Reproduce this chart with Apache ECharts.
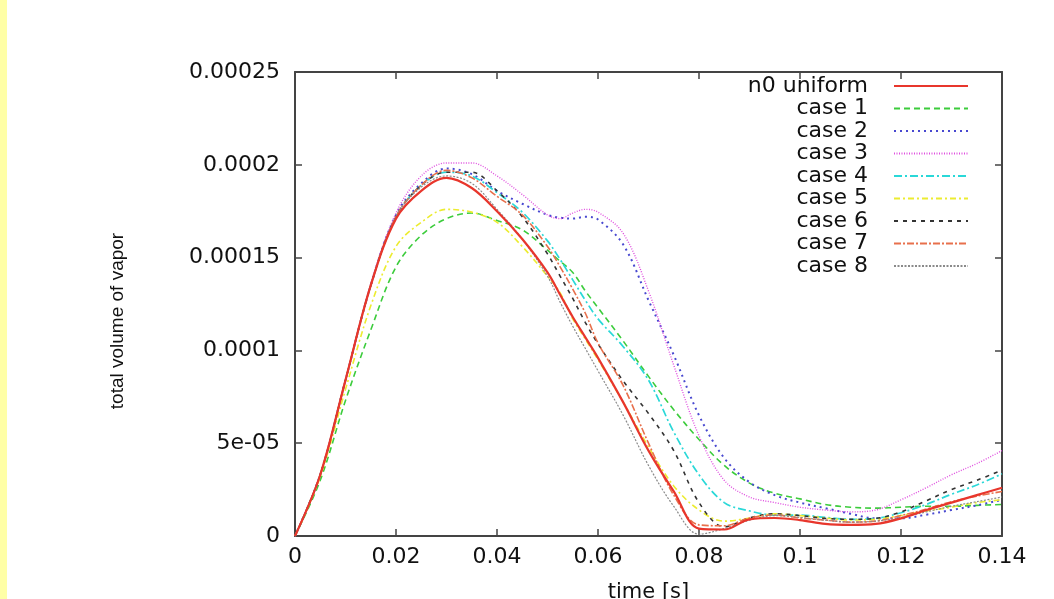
<!DOCTYPE html>
<html>
<head>
<meta charset="utf-8">
<script src="https://cdn.jsdelivr.net/npm/echarts@6/dist/echarts.min.js"></script>
<style>
html,body{margin:0;padding:0;background:#ffffff;}
#chart{width:1054px;height:599px;}
</style>
</head>
<body>
<div id="chart"></div>
<script>
// time samples [s]
const times = [0, 0.005, 0.01, 0.015, 0.02, 0.025, 0.03, 0.035, 0.04, 0.045, 0.05, 0.0525, 0.055, 0.0575, 0.06, 0.065, 0.07, 0.075, 0.08, 0.085, 0.09, 0.095, 0.1, 0.105, 0.11, 0.115, 0.12, 0.125, 0.13, 0.135, 0.14];

// total volume of vapor, in units of 1e-5
const n0Uniform = [0, 3.3, 8.4, 13.5, 17.1, 18.6, 19.3, 18.75, 17.5, 16.0, 14.2, 13.0, 11.8, 10.7, 9.6, 7.2, 4.6, 2.4, 0.4, 0.35, 0.9, 0.97, 0.86, 0.65, 0.6, 0.65, 0.95, 1.4, 1.8, 2.2, 2.6];
const case1 = [0, 3.0, 7.3, 11.1, 14.5, 16.2, 17.1, 17.4, 17.0, 16.5, 15.4, 14.8, 14.2, 13.2, 12.3, 10.5, 8.6, 6.8, 5.2, 3.8, 2.85, 2.3, 2.0, 1.7, 1.55, 1.5, 1.55, 1.6, 1.6, 1.65, 1.7];
const case2 = [0, 3.3, 8.4, 13.5, 17.3, 19.0, 19.8, 19.5, 18.6, 17.9, 17.3, 17.15, 17.1, 17.2, 17.05, 15.7, 12.7, 9.75, 6.5, 4.2, 2.9, 2.2, 1.8, 1.5, 1.2, 0.95, 0.95, 1.15, 1.4, 1.65, 1.95];
const case3 = [0, 3.3, 8.4, 13.6, 17.4, 19.4, 20.1, 20.1, 19.4, 18.4, 17.3, 17.1, 17.4, 17.6, 17.45, 16.3, 13.2, 9.2, 5.4, 3.0, 2.1, 1.8, 1.55, 1.4, 1.3, 1.4, 1.95, 2.6, 3.3, 3.9, 4.6];
const case4 = [0, 3.3, 8.4, 13.5, 17.2, 18.9, 19.6, 19.4, 18.5, 17.45, 15.9, 14.9, 13.8, 12.7, 11.7, 10.2, 8.4, 5.6, 3.3, 1.8, 1.35, 1.13, 1.13, 1.0, 0.9, 0.95, 1.25, 1.7, 2.25, 2.75, 3.35];
const case5 = [0, 3.2, 7.9, 12.4, 15.6, 16.9, 17.6, 17.45, 16.9, 15.6, 14.0, 13.1, 11.7, 10.6, 9.5, 7.2, 4.8, 2.7, 1.4, 0.8, 0.97, 1.2, 1.1, 0.97, 0.86, 0.9, 1.1, 1.35, 1.55, 1.8, 1.95];
const case6 = [0, 3.3, 8.4, 13.5, 17.2, 18.9, 19.6, 19.6, 18.6, 17.2, 15.2, 14.0, 12.8, 11.5, 10.35, 8.35, 6.6, 4.6, 1.8, 0.5, 0.97, 1.2, 1.1, 0.95, 0.9, 0.95, 1.3, 1.9, 2.5, 3.0, 3.55];
const case7 = [0, 3.3, 8.4, 13.5, 17.2, 18.9, 19.7, 19.3, 18.3, 17.3, 15.6, 14.5, 13.3, 12.0, 10.4, 8.1, 5.0, 2.2, 0.6, 0.55, 0.97, 1.13, 0.97, 0.86, 0.75, 0.8, 1.1, 1.45, 1.85, 2.15, 2.4];
const case8 = [0, 3.3, 8.4, 13.5, 17.2, 18.8, 19.4, 19.0, 17.6, 16.0, 14.0, 12.6, 11.3, 10.1, 8.9, 6.5, 3.8, 1.6, 0.1, 0.4, 0.85, 1.1, 1.0, 0.85, 0.75, 0.8, 1.0, 1.3, 1.6, 1.85, 2.1];

const seriesNames = ['n0 uniform', 'case 1', 'case 2', 'case 3', 'case 4', 'case 5', 'case 6', 'case 7', 'case 8'];
const seriesValues = [n0Uniform, case1, case2, case3, case4, case5, case6, case7, case8];

const xTickLabels = ['0', '0.02', '0.04', '0.06', '0.08', '0.1', '0.12', '0.14'];
const yTickLabels = ['0', '5e-05', '0.0001', '0.00015', '0.0002', '0.00025'];

const xTitle = 'time [s]';
const yTitle = 'total volume of vapor';

// styles (kept separate from data)
const lineStyles = [
  {color: '#e8362c', type: 'solid', width: 2.2},
  {color: '#3ccc3c', type: [6, 4], width: 1.6},
  {color: '#4848d0', type: [2, 4], width: 2},
  {color: '#e050e0', type: [1, 1.5], width: 1.4},
  {color: '#2ad8d8', type: [8, 3, 2, 3], width: 1.7},
  {color: '#ecec30', type: [6, 3, 2, 3], width: 1.6},
  {color: '#333333', type: [4, 5], width: 1.6},
  {color: '#e8704c', type: [7, 2, 2, 2], width: 1.6},
  {color: '#8a8a8a', type: [2, 1.5], width: 1.2}
];

const FONT = 'DejaVu Sans';
const AXIS_COLOR = '#444444';

const chart = echarts.init(document.getElementById('chart'), null, {renderer: 'canvas'});

const series = seriesNames.map((name, k) => ({
  name: name,
  type: 'line',
  data: times.map((t, i) => [t, seriesValues[k][i]]),
  xAxisIndex: 0,
  yAxisIndex: 0,
  symbol: 'none',
  showSymbol: false,
  smooth: 0.35,
  z: k === 0 ? 5 : 3,
  lineStyle: lineStyles[k],
  itemStyle: {color: lineStyles[k].color},
  emphasis: {disabled: true},
  animation: false
}));

const baseTick = {show: true, inside: true, length: 7, lineStyle: {color: AXIS_COLOR, width: 1.5}};
const baseLine = {show: true, onZero: false, lineStyle: {color: AXIS_COLOR, width: 2}};

const option = {
  backgroundColor: '#ffffff',
  animation: false,
  graphic: [{
    type: 'rect', left: 0, top: 0, z: -10,
    shape: {width: 7, height: 599},
    style: {fill: '#ffffa6'}
  }],
  grid: {left: 295, right: 52, top: 72, bottom: 63, containLabel: false, outerBoundsMode: 'none'},
  legend: {
    show: true,
    orient: 'vertical',
    align: 'right',
    right: 85,
    top: 75,
    padding: 0,
    itemWidth: 74,
    itemHeight: 14,
    itemGap: 0.5,
    selectedMode: false,
    itemStyle: {opacity: 0},
    formatter: name => name + '   ',
    textStyle: {fontFamily: FONT, fontSize: 22, color: '#111111', lineHeight: 22},
    data: seriesNames
  },
  xAxis: [{
    type: 'value', min: 0, max: 0.14, interval: 0.02, position: 'bottom',
    axisLine: baseLine, axisTick: baseTick,
    splitLine: {show: false},
    axisLabel: {
      margin: 10, fontFamily: FONT, fontSize: 22, color: '#111111',
      formatter: v => xTickLabels[Math.round(v / 0.02)]
    },
    name: xTitle, nameLocation: 'middle', nameGap: 46,
    nameTextStyle: {fontFamily: FONT, fontSize: 21, color: '#111111'}
  }, {
    type: 'value', min: 0, max: 0.14, interval: 0.02, position: 'top',
    axisLine: baseLine, axisTick: baseTick,
    splitLine: {show: false}, axisLabel: {show: false}
  }],
  yAxis: [{
    type: 'value', min: 0, max: 25, interval: 5, position: 'left',
    axisLine: baseLine, axisTick: baseTick,
    splitLine: {show: false},
    axisLabel: {
      margin: 15, fontFamily: FONT, fontSize: 22, color: '#111111',
      formatter: v => yTickLabels[Math.round(v / 5)]
    },
    name: yTitle, nameLocation: 'middle', nameRotate: 90, nameGap: 168,
    nameTextStyle: {fontFamily: 'Liberation Sans', fontSize: 19, color: '#111111', padding: [0, 34, 0, 0]}
  }, {
    type: 'value', min: 0, max: 25, interval: 5, position: 'right',
    axisLine: baseLine, axisTick: baseTick,
    splitLine: {show: false}, axisLabel: {show: false}
  }],
  series: series
};

chart.setOption(option);
</script>
</body>
</html>
